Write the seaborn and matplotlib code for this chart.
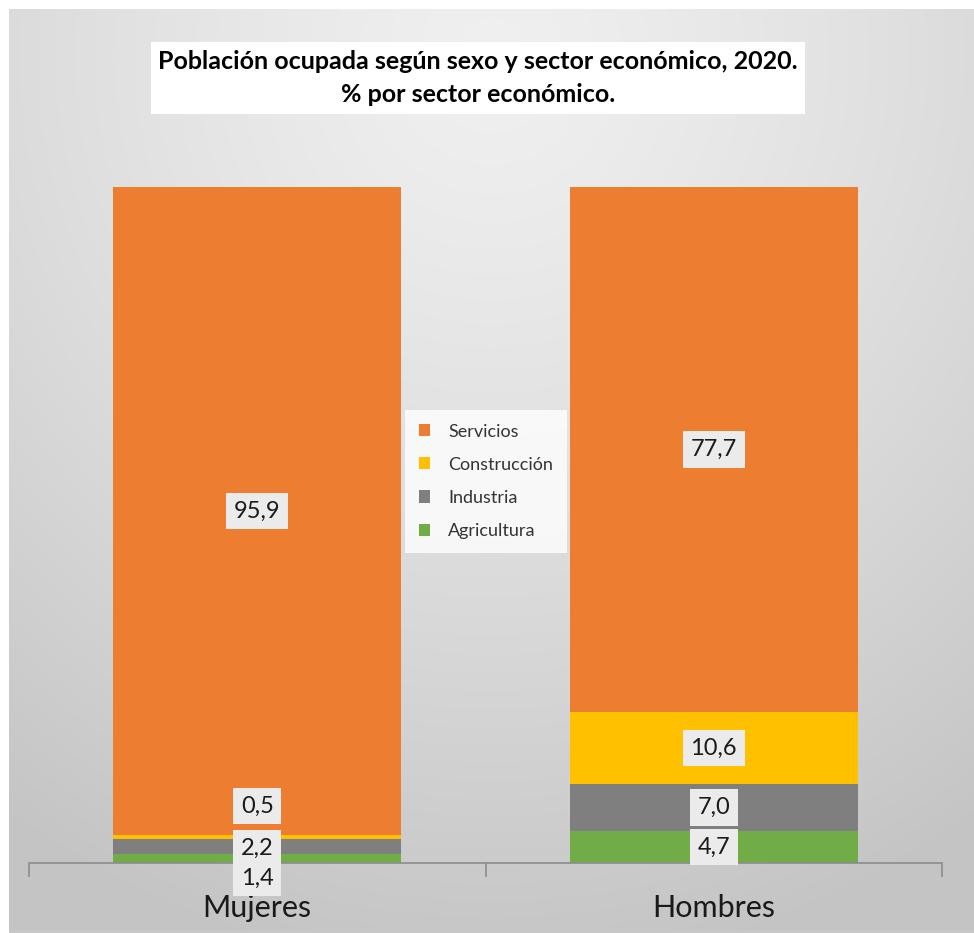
import numpy as np
import pandas as pd
import matplotlib
matplotlib.use("Agg")
import matplotlib.pyplot as plt
from matplotlib.patches import Patch
import seaborn as sns

# Data: employed population by sex and economic sector, 2020 (%)
sexos = ["Mujeres", "Hombres"]
sectores = ["Agricultura", "Industria", "Construcción", "Servicios"]
agricultura = [1.4, 4.7]
industria = [2.2, 7.0]
construccion = [0.5, 10.6]
servicios = [95.9, 77.7]

titulo = "Población ocupada según sexo y sector económico, 2020.\n% por sector económico."

colores = {
    "Agricultura": "#70AD47",
    "Industria": "#7F7F7F",
    "Construcción": "#FFC000",
    "Servicios": "#ED7D31",
}

df = pd.DataFrame({
    "sexo": sexos,
    "Agricultura": agricultura,
    "Industria": industria,
    "Construcción": construccion,
    "Servicios": servicios,
})

sns.set_theme(style="white")
plt.rcParams["font.family"] = ["Lato", "DejaVu Sans"]

W, H = 974, 933
fig = plt.figure(figsize=(W / 100, H / 100), dpi=100, facecolor="white")

# Chart-area background: soft radial gradient
bg = fig.add_axes([9 / W, 0, 1 - 9 / W, 1 - 9 / H])
yy, xx = np.mgrid[0:1:400j, 0:1:400j]
r = np.sqrt(((xx - 0.5) / 0.9) ** 2 + ((yy - 0.05) / 1.0) ** 2)
r = np.clip(r / 1.0, 0, 1)
light, dark = 0.94, 0.77
grad = light - (light - dark) * r ** 1.3
bg.imshow(np.dstack([grad] * 3), extent=[0, 1, 1, 0], aspect="auto", interpolation="bilinear")
bg.set_xlim(0, 1)
bg.set_ylim(1, 0)
bg.axis("off")
bg.plot([0, 1], [0.002, 0.002], color="#c8c8c8", lw=2, transform=bg.transAxes)

# Main plotting axes
base_px, top_px = 863, 187
ax = fig.add_axes([29 / W, (H - base_px) / H, 913 / W, (base_px - top_px) / H])
ax.patch.set_alpha(0)

bottom = np.zeros(len(sexos))
for sec in sectores:
    vals = df[sec].to_numpy()
    sns.barplot(x=df["sexo"], y=vals, bottom=bottom, color=colores[sec],
                width=0.63, saturation=1, ax=ax, linewidth=0, order=sexos)
    bottom = bottom + vals

ax.set_xlim(-0.5, 1.5)
ax.set_ylim(0, 100)
ax.set_ylabel("")
ax.set_xlabel("")
ax.set_yticks([])
for s in ["left", "right", "top"]:
    ax.spines[s].set_visible(False)
ax.spines["bottom"].set_color("#8c8c8c")
ax.spines["bottom"].set_linewidth(1.2)
ax.set_xticks([0, 1])
ax.set_xticklabels(sexos, fontsize=22, color="#1a1a1a")
ax.tick_params(axis="x", which="major", length=0, pad=22)
ax.set_xticks([-0.5, 0.5, 1.5], minor=True)
ax.tick_params(axis="x", which="minor", bottom=True, length=10, width=1.2,
               color="#8c8c8c", direction="out")

# Value labels (small Mujeres segments shifted apart so they stay readable)
desplaz = {
    ("Mujeres", "Agricultura"): -2.9,
    ("Mujeres", "Industria"): -0.3,
    ("Mujeres", "Construcción"): 4.6,
}
cum = np.zeros(len(sexos))
for sec in sectores:
    vals = df[sec].to_numpy()
    for i, s in enumerate(sexos):
        yc = cum[i] + vals[i] / 2 + desplaz.get((s, sec), 0)
        ax.text(i, yc, f"{vals[i]:.1f}".replace(".", ","), ha="center", va="center",
                fontsize=17, color="#1a1a1a",
                bbox=dict(boxstyle="square,pad=0.33", facecolor="#ebebeb", edgecolor="none"))
    cum = cum + vals

# Legend
handles = [Patch(facecolor=colores[s], edgecolor="none", label=s) for s in reversed(sectores)]
leg = fig.legend(handles=handles, loc="upper left", bbox_to_anchor=(405 / W, 1 - 410 / H),
                 borderaxespad=0, frameon=True, fontsize=13, handlelength=0.65,
                 handleheight=0.65, labelspacing=0.95, handletextpad=1.0, borderpad=0.75,
                 fancybox=False)
leg.get_frame().set_facecolor("white")
leg.get_frame().set_edgecolor("none")
for t in leg.get_texts():
    t.set_color("#333333")

# Title in a white box
fig.text(478 / W, 1 - 78 / H, titulo, ha="center", va="center", fontsize=18,
         fontweight="bold", color="black", linespacing=1.55,
         bbox=dict(boxstyle="square,pad=0.3", facecolor="white", edgecolor="none"))

fig.savefig("out.png", dpi=100, facecolor="white")
